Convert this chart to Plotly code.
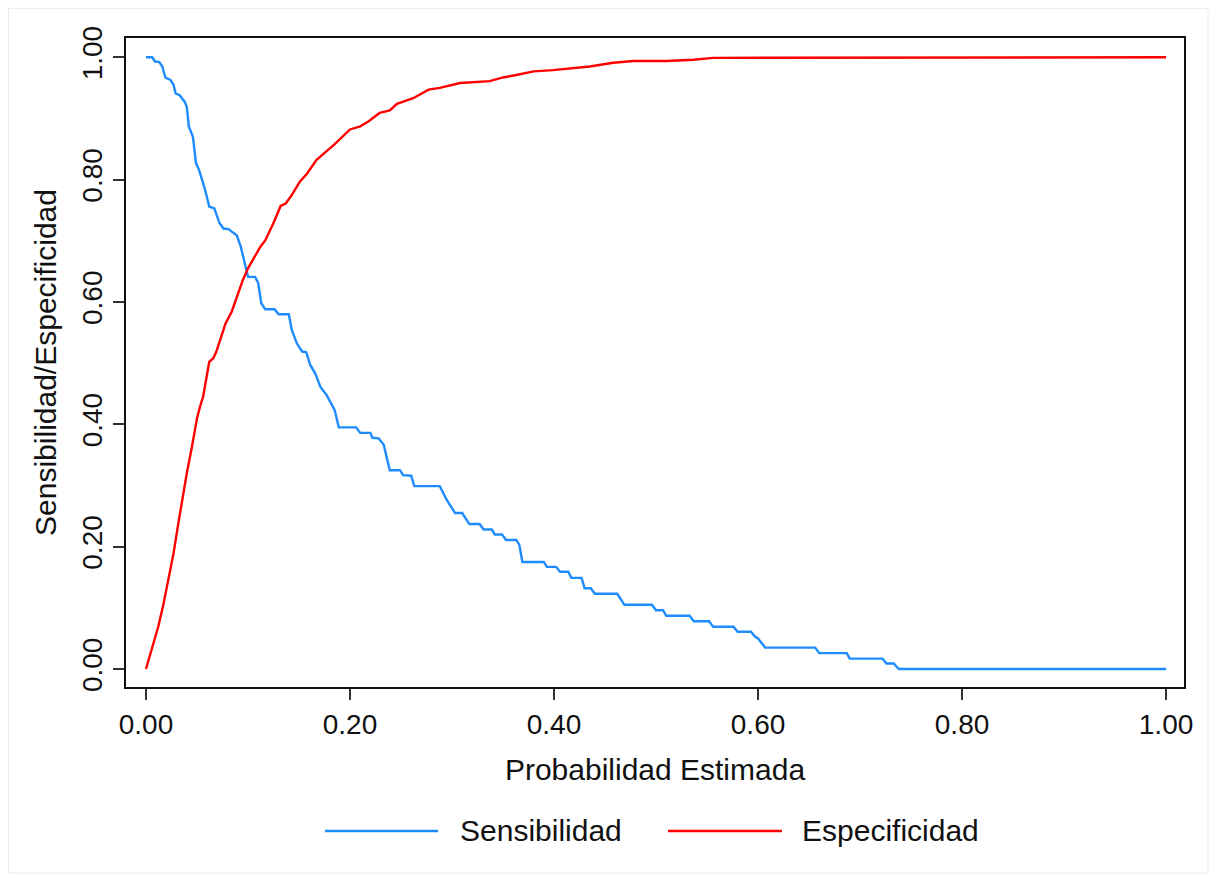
import plotly.graph_objects as go

# ---------------- data ----------------
sens_x = [0.000, 0.006, 0.009, 0.013, 0.016, 0.019, 0.024, 0.027, 0.029, 0.033,
          0.038, 0.040, 0.042, 0.046, 0.049, 0.052, 0.058, 0.062, 0.067, 0.072,
          0.076, 0.081, 0.084, 0.089, 0.093, 0.098, 0.100, 0.107, 0.110, 0.113,
          0.117, 0.126, 0.130, 0.140, 0.143, 0.148, 0.153, 0.157, 0.161, 0.166,
          0.171, 0.177, 0.185, 0.189, 0.206, 0.210, 0.220, 0.222, 0.228, 0.233,
          0.239, 0.249, 0.252, 0.260, 0.263, 0.288, 0.295, 0.303, 0.310, 0.317,
          0.327, 0.331, 0.339, 0.342, 0.349, 0.353, 0.363, 0.366, 0.369, 0.390,
          0.393, 0.402, 0.406, 0.414, 0.417, 0.427, 0.430, 0.436, 0.440, 0.462,
          0.469, 0.496, 0.500, 0.507, 0.510, 0.533, 0.537, 0.552, 0.556, 0.576,
          0.580, 0.593, 0.597, 0.600, 0.607, 0.656, 0.660, 0.687, 0.690, 0.722,
          0.726, 0.733, 0.738, 1.000]
sens_y = [1.000, 1.000, 0.993, 0.992, 0.985, 0.967, 0.963, 0.955, 0.941, 0.938,
          0.927, 0.919, 0.887, 0.870, 0.827, 0.816, 0.783, 0.756, 0.753, 0.729,
          0.720, 0.719, 0.715, 0.709, 0.690, 0.652, 0.641, 0.641, 0.631, 0.598,
          0.588, 0.588, 0.580, 0.580, 0.554, 0.532, 0.519, 0.518, 0.497, 0.483,
          0.461, 0.448, 0.423, 0.395, 0.395, 0.386, 0.386, 0.378, 0.377, 0.367,
          0.325, 0.325, 0.317, 0.316, 0.299, 0.299, 0.276, 0.255, 0.255, 0.237,
          0.237, 0.228, 0.228, 0.220, 0.220, 0.211, 0.211, 0.203, 0.175, 0.175,
          0.167, 0.167, 0.159, 0.159, 0.149, 0.149, 0.132, 0.132, 0.123, 0.123,
          0.105, 0.105, 0.096, 0.096, 0.087, 0.087, 0.078, 0.078, 0.069, 0.069,
          0.061, 0.061, 0.053, 0.050, 0.035, 0.035, 0.026, 0.026, 0.017, 0.017,
          0.009, 0.009, 0.000, 0.000]

spec_x = [0.000, 0.002, 0.006, 0.012, 0.017, 0.020, 0.025, 0.027, 0.032, 0.035,
          0.040, 0.045, 0.050, 0.053, 0.056, 0.062, 0.066, 0.069, 0.073, 0.078,
          0.084, 0.090, 0.095, 0.100, 0.105, 0.112, 0.117, 0.125, 0.132, 0.137,
          0.143, 0.151, 0.158, 0.167, 0.174, 0.185, 0.200, 0.210, 0.218, 0.229,
          0.239, 0.246, 0.262, 0.277, 0.288, 0.308, 0.337, 0.350, 0.363, 0.380,
          0.399, 0.412, 0.435, 0.458, 0.478, 0.510, 0.537, 0.556, 0.592, 0.600,
          1.000]
spec_y = [0.000, 0.012, 0.034, 0.069, 0.105, 0.132, 0.173, 0.189, 0.241, 0.271,
          0.320, 0.363, 0.410, 0.429, 0.445, 0.502, 0.508, 0.519, 0.541, 0.565,
          0.584, 0.614, 0.636, 0.655, 0.669, 0.690, 0.701, 0.729, 0.757, 0.761,
          0.775, 0.797, 0.810, 0.832, 0.842, 0.858, 0.882, 0.887, 0.895, 0.909,
          0.913, 0.924, 0.933, 0.947, 0.950, 0.958, 0.961, 0.967, 0.971, 0.977,
          0.979, 0.981, 0.985, 0.991, 0.994, 0.994, 0.996, 0.999, 0.999, 1.000,
          1.000]

tick_vals = [0.0, 0.2, 0.4, 0.6, 0.8, 1.0]
tick_text = ["0.00", "0.20", "0.40", "0.60", "0.80", "1.00"]

series_names = ["Sensibilidad", "Especificidad"]
series_colors = ["#1E8CFF", "#FF0000"]

x_title = "Probabilidad Estimada"
y_title = "Sensibilidad/Especificidad"

# ---------------- layout geometry ----------------
# The page body keeps the browser's default 8px margin, so the figure is
# sized/offset so that the plot area lands where it does in the reference.
OFF = 8
W, H = 1217 - 2 * OFF, 882 - 2 * OFF
# plot-area box in page pixels, converted to figure pixels
L, R, T, B = 126 - OFF, 1184 - OFF, 38 - OFF, 687 - OFF
FONT = "Liberation Sans, Arial, Helvetica, sans-serif"


def px_x(page_px):
    return (page_px - OFF - L) / (R - L)


def px_y(page_py):
    return (B - (page_py - OFF)) / (B - T)


fig = go.Figure()
fig.add_trace(go.Scatter(x=sens_x, y=sens_y, mode="lines", name=series_names[0],
                         line=dict(color=series_colors[0], width=2.4),
                         showlegend=False))
fig.add_trace(go.Scatter(x=spec_x, y=spec_y, mode="lines", name=series_names[1],
                         line=dict(color=series_colors[1], width=2.4),
                         showlegend=False))

axis_common = dict(
    showgrid=False, zeroline=False,
    showline=True, linecolor="#111111", linewidth=2, mirror=True,
    ticks="outside", ticklen=11, tickwidth=2, tickcolor="#333333",
    tickmode="array", tickvals=tick_vals, ticktext=tick_text,
    tickfont=dict(family=FONT, size=28, color="#111111"),
)

fig.update_layout(
    width=W, height=H,
    margin=dict(l=L, r=W - R, t=T, b=H - B, autoexpand=False),
    paper_bgcolor="white", plot_bgcolor="white",
    font=dict(family=FONT, color="#111111"),
    xaxis=dict(range=[-0.0196, 1.0176],
               title=dict(text=x_title, font=dict(family=FONT, size=30), standoff=20),
               **axis_common),
    yaxis=dict(range=[-0.0294, 1.0315], tickangle=-90,
               title=dict(text=y_title, font=dict(family=FONT, size=30), standoff=11),
               **axis_common),
    showlegend=False,
)

# faint outer frame of the graph region
fig.add_shape(type="rect", xref="paper", yref="paper",
              x0=px_x(8.5), x1=px_x(1208), y0=px_y(873), y1=px_y(8.5),
              line=dict(color="#EDEDED", width=1), fillcolor="rgba(0,0,0,0)",
              layer="below")

# manual legend (long sample lines like the original)
leg_y = px_y(831)
legend_items = [
    (325, 438, 458, series_names[0], series_colors[0]),
    (668, 782, 800, series_names[1], series_colors[1]),
]
for x0, x1, xt, name, col in legend_items:
    fig.add_shape(type="line", xref="paper", yref="paper",
                  x0=px_x(x0), x1=px_x(x1), y0=leg_y, y1=leg_y,
                  line=dict(color=col, width=2.4))
    fig.add_annotation(xref="paper", yref="paper", x=px_x(xt), y=leg_y,
                       text=name, showarrow=False, xanchor="left", yanchor="middle",
                       font=dict(family=FONT, size=30, color="#111111"))

fig.write_html("out.html")
